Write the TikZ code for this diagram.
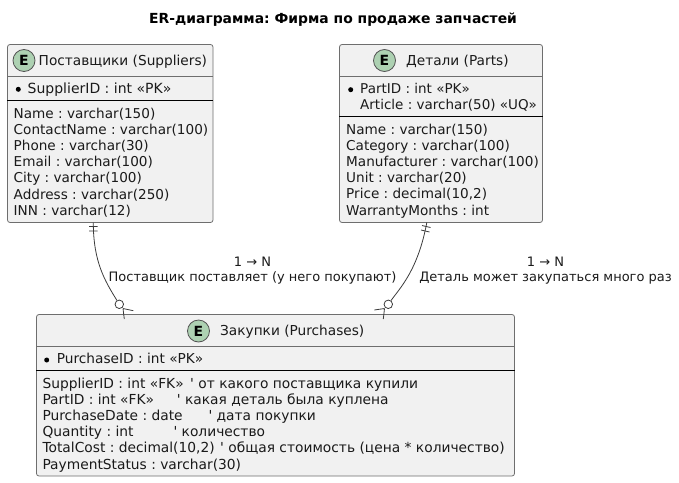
\documentclass[tikz,border=0pt]{standalone}
\usepackage{fontspec}
\setmainfont{DejaVu Sans}
\definecolor{entfill}{HTML}{F1F1F1}
\definecolor{entline}{HTML}{6E6E6E}
\definecolor{badge}{HTML}{ADD1B2}
\definecolor{ink}{HTML}{1A1A1A}
\newcommand{\noterow}[3]{\makebox[#1pt][l]{#2}\textquotesingle\ #3}
\tikzset{
  ent/.style={draw=entline,fill=entfill,line width=0.8pt,rounded corners=2.5pt,inner sep=0pt},
  headline/.style={draw=entline,line width=0.8pt},
  sepline/.style={draw=black,line width=0.9pt},
  badgenode/.style={circle,draw=ink!75,fill=badge,line width=0.8pt,minimum size=22pt,inner sep=0pt,font=\fontsize{14}{14}\selectfont\bfseries},
  fieldtext/.style={anchor=north west,inner sep=0pt,align=left,text=ink,font=\frenchspacing\fontsize{#1}{16.2}\selectfont},
  fieldtext/.default=13.6,
  titletext/.style={anchor=base west,inner sep=0pt,text=ink,font=\frenchspacing\fontsize{13.7}{16}\selectfont},
  bulletdot/.style={circle,fill=black,minimum size=5pt,inner sep=0pt},
  edgelabel/.style={anchor=north,inner sep=0pt,align=center,text=ink,font=\frenchspacing\fontsize{13}{15.2}\selectfont},
  link/.style={draw=ink!85,line width=0.8pt},
  opt/.style={circle,draw=ink!85,fill=white,line width=0.8pt,minimum size=8.5pt,inner sep=0pt}
}
\begin{document}
\begin{tikzpicture}[x=1pt,y=-1pt]
\useasboundingbox (0,0) rectangle (679,482);
\node[anchor=base west,inner sep=0pt,font=\frenchspacing\fontsize{13.9}{16}\selectfont\bfseries] (title) at (149,23) {ER-диаграмма: Фирма по продаже запчастей};

% entities
\node[ent,minimum width=205.5pt,minimum height=178pt] (sup) at (110.25,133.5) {};
\node[ent,minimum width=203pt,minimum height=178pt] (par) at (441,133.5) {};
\node[ent,minimum width=478pt,minimum height=161.5pt] (pur) at (275.5,395.25) {};

\draw[headline] (sup.west |- 0,76.5) -- (sup.east |- 0,76.5);
\draw[sepline] (sup.west |- 0,100) -- (sup.east |- 0,100);
\draw[headline] (par.west |- 0,76.5) -- (par.east |- 0,76.5);
\draw[sepline] (par.west |- 0,116) -- (par.east |- 0,116);
\draw[headline] (pur.west |- 0,346.5) -- (pur.east |- 0,346.5);
\draw[sepline] (pur.west |- 0,370) -- (pur.east |- 0,370);

\node[badgenode] (supE) at (24,60.5) {E};
\node[badgenode] (parE) at (384.5,60.5) {E};
\node[badgenode] (purE) at (198.5,331) {E};
\node[titletext] (supT) at (38.5,65) {Поставщики (Suppliers)};
\node[titletext] (parT) at (406,65) {Детали (Parts)};
\node[titletext] (purT) at (220,335.5) {Закупки (Purchases)};

\node[bulletdot] (supB) at (18.3,89.3) {};
\node[bulletdot] (parB) at (350.7,89.7) {};
\node[bulletdot] (purB) at (46.7,360) {};

\node[fieldtext=14] (supK) at (27.5,83) {SupplierID : int «PK»};
\node[fieldtext] (supF) at (13.5,107.5) {Name : varchar(150)\\ContactName : varchar(100)\\Phone : varchar(30)\\Email : varchar(100)\\City : varchar(100)\\Address : varchar(250)\\INN : varchar(12)};
\node[fieldtext=13.5] (parK) at (360,83) {PartID : int «PK»\\Article : varchar(50) «UQ»};
\node[fieldtext] (parF) at (346,123.5) {Name : varchar(150)\\Category : varchar(100)\\Manufacturer : varchar(100)\\Unit : varchar(20)\\Price : decimal(10,2)\\WarrantyMonths : int};
\node[fieldtext=13.7] (purK) at (56.7,353) {PurchaseID : int «PK»};
\node[fieldtext=13.8] (purF) at (42.3,377.5) {\noterow{147.7}{SupplierID : int «FK»}{от какого поставщика купили}\\\noterow{134.4}{PartID : int «FK»}{какая деталь была куплена}\\\noterow{166}{PurchaseDate : date}{дата покупки}\\\noterow{131}{Quantity : int}{количество}\\\noterow{177.7}{TotalCost : decimal(10,2)}{общая стоимость (цена * количество)}\\PaymentStatus : varchar(30)};

% edge labels
\node[edgelabel] (lab1) at (252.5,257) {1 → N\\Поставщик поставляет (у него покупают)};
\node[edgelabel] (lab2) at (545.5,257) {1 → N\\Деталь может закупаться много раз};

% connectors
\node[opt] (o1) at (119.3,304.3) {};
\node[opt] (o2) at (388.3,304.3) {};
\coordinate (s1) at (93.3,222.5);
\coordinate (s2) at (426.8,222.5);
\coordinate (c1) at (123,308.5);
\coordinate (c2) at (384.5,308.5);
\coordinate (f1a) at (124.3,319);
\coordinate (f1b) at (133.3,310.7);
\coordinate (f2a) at (383.3,319);
\coordinate (f2b) at (374.3,310);
\coordinate (t1a) at (89,226.5);
\coordinate (t1b) at (97.5,226.5);
\coordinate (t1c) at (89,231);
\coordinate (t1d) at (97.5,231);
\coordinate (t2a) at (422,225.5);
\coordinate (t2b) at (430.5,227.5);
\coordinate (t2c) at (421,230);
\coordinate (t2d) at (429.5,232);

\draw[link] (s1) .. controls (93.3,262) and (105,281) .. (o1);
\draw[link] (s2) .. controls (418,270) and (400,288) .. (o2);
\draw[link] (c1) -- (f1a) (c1) -- (f1b) (c2) -- (f2a) (c2) -- (f2b);
\draw[link] (t1a) -- (t1b) (t1c) -- (t1d) (t2a) -- (t2b) (t2c) -- (t2d);
\end{tikzpicture}
\end{document}
